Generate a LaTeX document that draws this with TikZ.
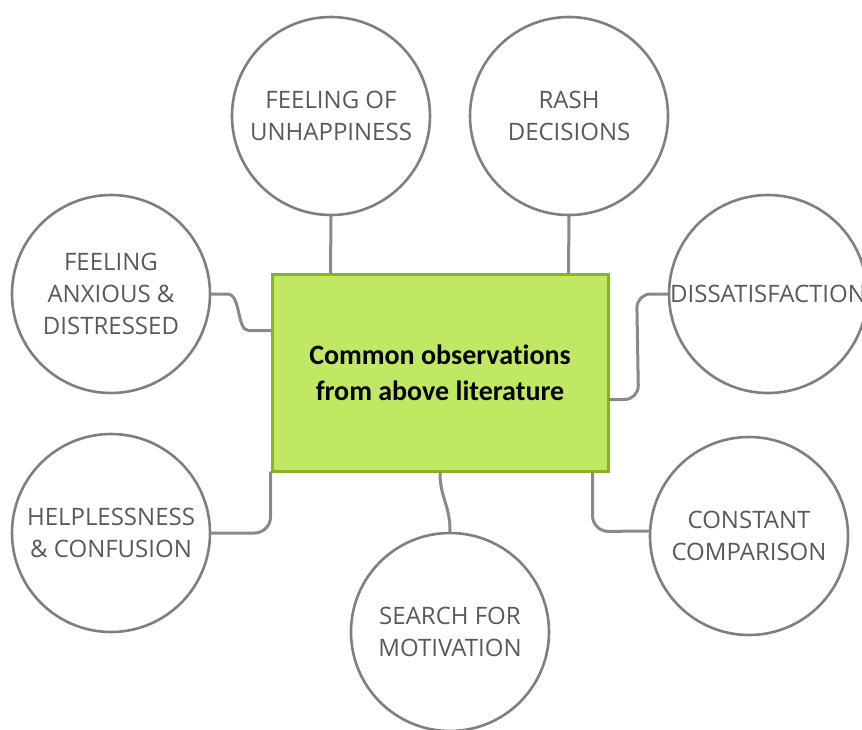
\documentclass[tikz,border=0pt]{standalone}
\usepackage{fontspec}
\setmainfont{Open Sans}
\newfontfamily\boxfont[Ligatures={NoCommon,NoRare,NoDiscretionary}]{Carlito}
\usetikzlibrary{calc}
\definecolor{ringgrey}{HTML}{7F7F7F}
\definecolor{wiregrey}{HTML}{898989}
\definecolor{labelgrey}{HTML}{595959}
\definecolor{boxfill}{HTML}{C0E862}
\definecolor{boxedge}{HTML}{84B81A}
\tikzset{
  topic/.style={circle, draw=ringgrey, line width=2.6pt, minimum size=198pt,
    inner sep=0pt, align=center, text=labelgrey, font=\fontsize{24}{32}\selectfont},
  hub/.style={rectangle, draw=boxedge, fill=boxfill, line width=3pt,
    minimum width=336pt, minimum height=197pt, align=center,
    font=\boxfont\bfseries\fontsize{28}{36}\selectfont, text=black},
  wire/.style={draw=wiregrey, line width=3pt, line cap=round}
}
\begin{document}
\begin{tikzpicture}[x=1pt,y=-1pt]
\useasboundingbox (0,0) rectangle (862,729);

% central box
\node[hub] (hub) at (440,372.5) {Common observations\\from above literature};

% surrounding topics
\node[topic] (unhappy) at (331,116) {FEELING OF\\UNHAPPINESS};
\node[topic] (rash) at (569,116) {RASH\\DECISIONS};
\node[topic] (anxious) at (111,294) {FEELING\\ANXIOUS \&\\DISTRESSED};
\node[topic] (dissat) at (768,294) {DISSATISFACTION};
\node[topic] (helpless) at (111,533) {HELPLESSNESS\\\& CONFUSION};
\node[topic] (compare) at (749,536) {CONSTANT\\COMPARISON};
\node[topic] (motiv) at (450,632) {SEARCH FOR\\MOTIVATION};

% connectors
\draw[wire] ($(hub.north west)+(60,0)$) -- (unhappy.south);
\draw[wire] ($(hub.north west)+(298,0)$) -- (rash.south);
\draw[wire] (anxious.east) -- ++(16,0)
  .. controls +(14,0) and +(-12,0) .. ($(hub.north west)+(-22,58)$)
  -- ($(hub.north west)+(0,58)$);
\draw[wire, rounded corners=14pt] ($(hub.north east)+(0,127)$) -- ++(29,0)
  -- ($(dissat.west)+(-31,0)$) -- (dissat.west);
\draw[wire, rounded corners=16pt] (hub.south west) -- (hub.south west |- helpless.east)
  -- (helpless.east);
\draw[wire, rounded corners=16pt] ($(hub.south east)+(-17,0)$) -- ($(hub.south east)+(-17,59)$)
  -- ($(compare.west)+(0,-5)$);
\draw[wire] (hub.south) .. controls +(0,26) and +(0,-28) .. (motiv.north);
\end{tikzpicture}
\end{document}
